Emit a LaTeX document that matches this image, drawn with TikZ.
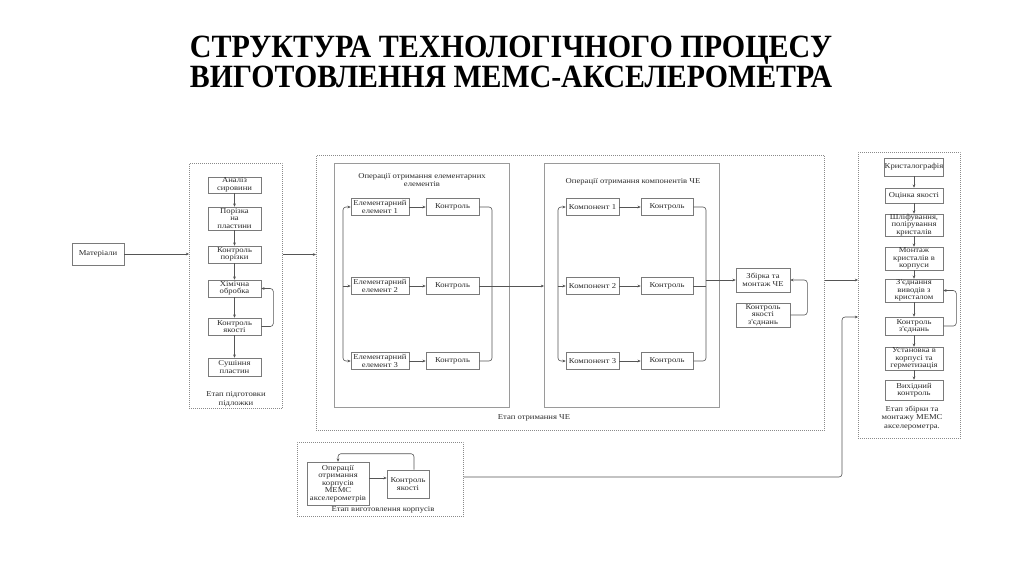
\documentclass[tikz,border=0pt]{standalone}
\usepackage{fontspec}
\usepackage{graphicx}
\setmainfont{Liberation Serif}
\newfontfamily\boxfont[FakeStretch=1.15]{Liberation Serif}
\usetikzlibrary{arrows.meta}
\definecolor{boxc}{HTML}{7A7A7A}
\definecolor{dotc}{HTML}{8A8A8A}
\definecolor{grpc}{HTML}{9A9A9A}
\definecolor{linec}{HTML}{555555}
\definecolor{txtc}{HTML}{2A2A2A}
\begin{document}
\begin{tikzpicture}[x=1pt,y=-1pt,
  every node/.style={inner sep=0.3pt},
  box/.style={draw=boxc, fill=white, line width=0.6pt, align=center, font=\boxfont\fontsize{7.5}{7.4}\selectfont, text=txtc},
  stage/.style={draw=dotc, line width=0.9pt, dash pattern=on 0.8pt off 1.2pt, anchor=north west},
  grp/.style={draw=grpc, line width=0.5pt, anchor=north west},
  lbl/.style={font=\boxfont\fontsize{7.5}{8.5}\selectfont, align=center, text=txtc},
  conn/.style={draw=linec, line width=0.6pt, rounded corners=3pt, -{Stealth[length=3.2pt,width=2.8pt]}},
  wire/.style={draw=linec, line width=0.6pt, rounded corners=3pt},
]
\fill[white] (0,0) rectangle (1024,574);
\useasboundingbox (0,0) rectangle (1024,574);

% title
\node[anchor=base] (t1) at (511,57) {\resizebox{642pt}{21.5pt}{\bfseries СТРУКТУРА ТЕХНОЛОГІЧНОГО ПРОЦЕСУ}};
\node[anchor=base] (t2) at (511,87) {\resizebox{642pt}{21.5pt}{\bfseries ВИГОТОВЛЕННЯ МЕМС-АКСЕЛЕРОМЕТРА}};

% stage frames
\node[stage, minimum width=93, minimum height=245] (s1) at (189,163) {};
\node[stage, minimum width=508, minimum height=275] (s2) at (316,155) {};
\node[stage, minimum width=102, minimum height=286] (s4) at (858,152) {};
\node[stage, minimum width=166, minimum height=74] (s5) at (297,442) {};
\node[grp, minimum width=175, minimum height=244] (g1) at (334,163) {};
\node[grp, minimum width=175, minimum height=244] (g2) at (544,163) {};

% stage labels
\node[lbl] (l1) at (236,399) {Етап підготовки\\підложки};
\node[lbl] (l2) at (534,418) {Етап отримання ЧЕ};
\node[lbl] (l4) at (912,418) {Етап збірки та\\монтажу МЕМС\\акселерометра.};
\node[lbl] (l5) at (383,509.5) {Етап виготовлення корпусів};
\node[lbl] (lg1) at (422,180) {Операції отримання елементарних\\елементів};
\node[lbl] (lg2) at (633,182) {Операції отримання компонентів ЧЕ};

% materials
\node[box, minimum width=52, minimum height=22] (mat) at (98,254) {Матеріали};

% stage 1
\begin{scope}[every node/.append style={box, minimum width=53}]
\node[minimum height=16] (a1) at (234.5,185) {Аналіз\\сировини};
\node[minimum height=23] (a2) at (234.5,218.5) {Порізка\\на\\пластини};
\node[minimum height=17] (a3) at (234.5,254.5) {Контроль\\порізки};
\node[minimum height=17] (a4) at (234.5,288.5) {Хімічна\\обробка};
\node[minimum height=17] (a5) at (234.5,326.5) {Контроль\\якості};
\node[minimum height=18] (a6) at (234.5,367) {Сушіння\\пластин};
\end{scope}

% elementary elements
\begin{scope}[every node/.append style={box, minimum height=17}]
\node[minimum width=58] (e1) at (380,207) {Елементарний\\елемент 1};
\node[minimum width=58] (e2) at (380,286) {Елементарний\\елемент 2};
\node[minimum width=58] (e3) at (380,361) {Елементарний\\елемент 3};
\node[minimum width=53] (k1) at (452.5,207) {Контроль};
\node[minimum width=53] (k2) at (452.5,286) {Контроль};
\node[minimum width=53] (k3) at (452.5,361) {Контроль};
% components
\node[minimum width=53] (c1) at (592.5,207) {Компонент 1};
\node[minimum width=53] (c2) at (592.5,286) {Компонент 2};
\node[minimum width=53] (c3) at (592.5,361) {Компонент 3};
\node[minimum width=52] (q1) at (667,207) {Контроль};
\node[minimum width=52] (q2) at (667,286) {Контроль};
\node[minimum width=52] (q3) at (667,361) {Контроль};
\end{scope}

\node[box, minimum width=54, minimum height=24] (zb) at (763,280) {Збірка та\\монтаж ЧЕ};
\node[box, minimum width=54, minimum height=24] (kz) at (763,315) {Контроль\\якості\\з'єднань};

% stage 4
\begin{scope}[every node/.append style={box, minimum width=58}]
\node[minimum height=18] (r1) at (914,167) {Кристалографія};
\node[minimum height=15] (r2) at (914,195.5) {Оцінка якості};
\node[minimum height=22] (r3) at (914,225) {Шліфування,\\полірування\\кристалів};
\node[minimum height=23] (r4) at (914,258.5) {Монтаж\\кристалів в\\корпуси};
\node[minimum height=23] (r5) at (914,290.5) {З'єднання\\виводів з\\кристалом};
\node[minimum height=18] (r6) at (914,326) {Контроль\\з'єднань};
\node[minimum height=23] (r7) at (914,358.5) {Установка в\\корпусі та\\герметизація};
\node[minimum height=20] (r8) at (914,390) {Вихідний\\контроль};
\end{scope}

% housing
\node[box, minimum width=62, minimum height=43, font=\boxfont\fontsize{7.5}{7.5}\selectfont] (h1) at (338,483.5) {Операції\\отримання\\корпусів\\МЕМС\\акселерометрів};
\node[box, minimum width=42, minimum height=28] (h2) at (408,484) {Контроль\\якості};

% bus coordinates
\coordinate (lb1) at (343,286);
\coordinate (rb1) at (492,286);
\coordinate (lb2) at (558,286);
\coordinate (rb2) at (706,280);
\coordinate (j1) at (842,477);
\coordinate (j2) at (842,317);

% connectors: left part
\draw[conn] (mat.east) -- (mat.east -| s1.west);
\foreach \u/\v in {a1/a2,a2/a3,a3/a4,a4/a5,a5/a6}{\draw[conn] (\u.south) -- (\v.north);}
\draw[conn] (a5.east) -- ++(12,0) |- (a4.east);
\draw[conn] (a3.east -| s1.east) -- (a3.east -| s2.west);

% elementary elements
\draw[conn] (lb1) |- (e1.west);
\draw[conn] (lb1) |- (e3.west);
\draw[conn] (lb1) -- (e2.west);
\foreach \i in {1,2,3}{\draw[conn] (e\i.east) -- (k\i.west);}
\draw[wire] (k1.east) -| (rb1);
\draw[wire] (k3.east) -| (rb1);
\draw[wire] (k2.east) -- (rb1);
\draw[conn] (rb1) -- (rb1 -| g2.west);

% components
\draw[conn] (lb2) |- (c1.west);
\draw[conn] (lb2) |- (c3.west);
\draw[conn] (lb2) -- (c2.west);
\foreach \i in {1,2,3}{\draw[conn] (c\i.east) -- (q\i.west);}
\draw[wire] (q1.east) -| (rb2);
\draw[wire] (q3.east) -| (rb2);
\draw[wire] (q2.east) -- (q2.east -| rb2);
\draw[conn] (rb2) -- (zb.west);
\draw[conn] (kz.east) -- ++(17,0) |- (zb.east);

% to stage 4
\draw[conn] (zb.east -| s2.east) -- (zb.east -| s4.west);
\foreach \u/\v in {r1/r2,r2/r3,r3/r4,r4/r5,r5/r6,r6/r7,r7/r8}{\draw[conn] (\u.south) -- (\v.north);}
\draw[conn] (r6.east) -- ++(13,0) |- (r5.east);

% housing
\draw[conn] (h1.east |- 0,478) -- (h2.west |- 0,478);
\draw[conn] ([xshift=6pt]h2.north) -- ++(0,-16) -| (h1.north);
\draw[conn] (s5.east |- j1) -- (j1) -- (j2) -- (j2 -| s4.west);
\end{tikzpicture}
\end{document}
